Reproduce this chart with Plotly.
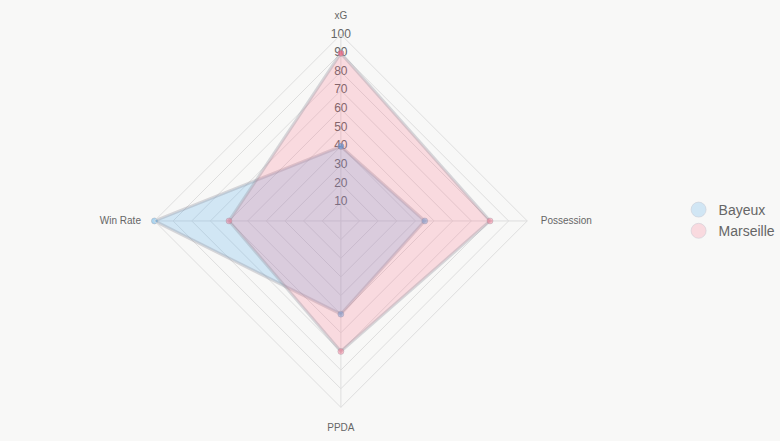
import plotly.graph_objects as go

categories = ["xG", "Possession", "PPDA", "Win Rate"]
bayeux = [40, 45, 50, 100]
marseille = [90, 80, 70, 60]
tick_vals = [10, 20, 30, 40, 50, 60, 70, 80, 90, 100]
tick_text = [str(v) for v in tick_vals]

blue_fill = "rgba(54,162,235,0.2)"
pink_fill = "rgba(255,99,132,0.2)"
border = "rgba(150,150,160,0.35)"
FONT = "Liberation Sans, Arial, sans-serif"

fig = go.Figure()

# radial tick labels (under the datasets)
fig.add_trace(go.Scatterpolar(
    r=tick_vals, theta=[categories[0]] * len(tick_vals), mode="text",
    text=tick_text, textposition="middle center",
    textfont=dict(size=12, color="#666", family=FONT),
    showlegend=False, hoverinfo="skip"))

for name, vals, fillc, mc in [("Bayeux", bayeux, blue_fill, "rgba(54,162,235,0.4)"),
                              ("Marseille", marseille, pink_fill, "rgba(255,99,132,0.4)")]:
    fig.add_trace(go.Scatterpolar(
        r=vals + [vals[0]], theta=categories + [categories[0]],
        mode="lines+markers", fill="toself", fillcolor=fillc,
        line=dict(color=border, width=3),
        marker=dict(size=6, color=mc, line=dict(color=border, width=1)),
        name=name, showlegend=False))
    fig.add_trace(go.Scatterpolar(
        r=[None], theta=[categories[0]], mode="markers", name=name,
        marker=dict(size=15, symbol="circle", color=fillc,
                    line=dict(color="rgba(200,200,210,0.5)", width=1)),
        showlegend=True))

fig.update_layout(
    width=780, height=441,
    margin=dict(l=0, r=0, t=0, b=0, autoexpand=False),
    paper_bgcolor="#f8f8f7",
    plot_bgcolor="#f8f8f7",
    font=dict(family=FONT, color="#666"),
    polar=dict(
        domain=dict(x=[0.198, 0.676], y=[0.076, 0.922]),
        bgcolor="rgba(0,0,0,0)",
        gridshape="linear",
        radialaxis=dict(range=[0, 100], tickvals=tick_vals, showticklabels=False,
                        ticks="", showline=False, gridcolor="#dedede", gridwidth=1,
                        angle=90),
        angularaxis=dict(rotation=90, direction="clockwise", gridcolor="#dedede",
                         linecolor="#dedede", showline=True, ticks="outside",
                         ticklen=11, tickcolor="rgba(0,0,0,0)",
                         tickfont=dict(size=10, color="#666", family=FONT)),
    ),
    legend=dict(x=0.87, y=0.5, xanchor="left", yanchor="middle",
                font=dict(size=14, color="#666", family=FONT),
                bgcolor="rgba(0,0,0,0)", itemwidth=30, tracegroupgap=4),
)

fig.write_html("out.html")
